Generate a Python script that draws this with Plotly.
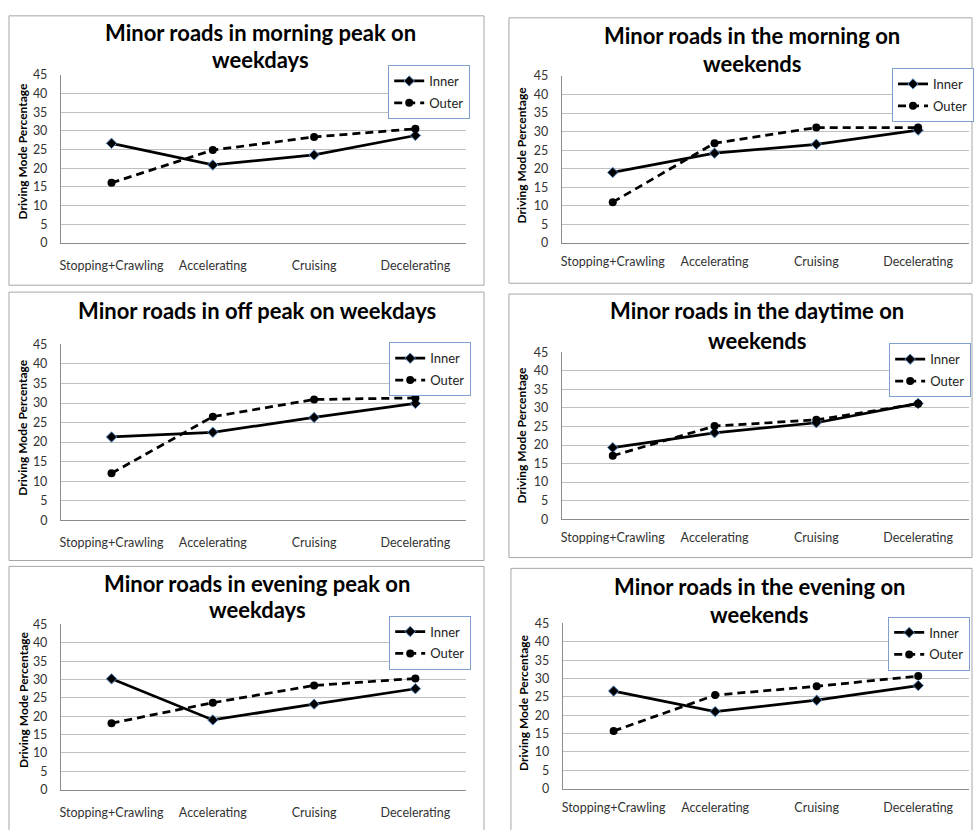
import plotly.graph_objects as go

W, H = 974, 830

categories = ["Stopping+Crawling", "Accelerating", "Cruising", "Decelerating"]
y_ticks = [0, 5, 10, 15, 20, 25, 30, 35, 40, 45]

titles = [
    ["Minor roads in morning peak on", "weekdays"],
    ["Minor roads in the morning on", "weekends"],
    ["Minor roads in off peak on weekdays"],
    ["Minor roads in the daytime on", "weekends"],
    ["Minor roads in evening peak on", "weekdays"],
    ["Minor roads in the evening on", "weekends"],
]

inner_morning_peak_weekdays = [26.7, 20.9, 23.6, 28.8]
outer_morning_peak_weekdays = [16.1, 24.9, 28.4, 30.6]

inner_morning_weekends = [19.0, 24.2, 26.6, 30.4]
outer_morning_weekends = [11.0, 26.9, 31.1, 31.1]

inner_off_peak_weekdays = [21.3, 22.5, 26.3, 29.9]
outer_off_peak_weekdays = [12.0, 26.5, 30.9, 31.3]

inner_daytime_weekends = [19.3, 23.3, 26.0, 31.2]
outer_daytime_weekends = [17.1, 25.1, 26.8, 31.1]

inner_evening_peak_weekdays = [30.2, 19.0, 23.3, 27.5]
outer_evening_peak_weekdays = [18.1, 23.7, 28.4, 30.3]

inner_evening_weekends = [26.6, 21.0, 24.1, 28.1]
outer_evening_weekends = [15.7, 25.5, 27.9, 30.7]

inner_series = [
    inner_morning_peak_weekdays, inner_morning_weekends,
    inner_off_peak_weekdays, inner_daytime_weekends,
    inner_evening_peak_weekdays, inner_evening_weekends,
]
outer_series = [
    outer_morning_peak_weekdays, outer_morning_weekends,
    outer_off_peak_weekdays, outer_daytime_weekends,
    outer_evening_peak_weekdays, outer_evening_weekends,
]

# Pixel geometry of each panel (left, top, right, bottom) in the 974x830 page
plot_boxes = [
    (60, 69, 466, 240), (562, 70, 970, 240),
    (60, 343, 466, 522), (562, 351, 970, 521),
    (60, 628, 466, 796), (563, 627, 970, 795),
]
frame_boxes = [
    (8, 9, 484, 283), (509, 11, 973, 281),
    (8, 290, 484, 563), (509, 292, 973, 560),
    (8, 569, 484, 840), (511, 571, 973, 840),
]
# centre x and the y of each title line
title_pos = [
    (260, [26, 53]), (753, [29, 57]), (257, [309]),
    (758, [309, 339]), (257, [586, 613]), (760, [589, 618]),
]
ytitle_pos = [(22, 146), (522, 150), (22, 427), (522, 435), (22, 704), (523, 707)]
legend_pos = [(388, 59), (893, 62), (389, 341), (890, 342), (389, 619), (889, 620)]
cat_standoff = [11, 7, 11, 7, 11, 7]


def px_x(x):
    return x / W


def px_y(y):
    return 1 - y / H


FONT = "Lato"
TICK_COLOR = "#333333"
GRID_COLOR = "#BFBFBF"
AXIS_COLOR = "#8C8C8C"
LEGEND_BORDER = "#7F9FCF"

fig = go.Figure()
layout = dict(
    width=W, height=H,
    margin=dict(l=0, r=0, t=0, b=0),
    paper_bgcolor="white", plot_bgcolor="white",
    annotations=[], shapes=[],
)

for i in range(6):
    n = i + 1
    xa = "x" if n == 1 else f"x{n}"
    ya = "y" if n == 1 else f"y{n}"
    lg = "legend" if n == 1 else f"legend{n}"

    fig.add_trace(go.Scatter(
        x=categories, y=inner_series[i], name="Inner", mode="lines+markers",
        xaxis=xa, yaxis=ya, legend=lg, legendgroup=f"inner{n}",
        line=dict(color="black", width=2.75),
        marker=dict(symbol="diamond", size=8, color="black",
                    line=dict(color="#5B8BC9", width=1)),
    ))
    fig.add_trace(go.Scatter(
        x=categories, y=outer_series[i], name="Outer", mode="lines+markers",
        xaxis=xa, yaxis=ya, legend=lg, legendgroup=f"outer{n}",
        line=dict(color="black", width=2.75, dash="8px,5px"),
        marker=dict(symbol="circle", size=8, color="black"),
    ))

    l, t, r, b = plot_boxes[i]
    xkey = "xaxis" if n == 1 else f"xaxis{n}"
    ykey = "yaxis" if n == 1 else f"yaxis{n}"
    layout[xkey] = dict(
        domain=[px_x(l), px_x(r)], anchor=ya, type="category",
        range=[-0.5, 3.5], showgrid=False, zeroline=False,
        showline=True, linecolor=AXIS_COLOR, linewidth=1,
        ticks="", ticklabelstandoff=cat_standoff[i],
        tickfont=dict(family=FONT, size=12.5, color=TICK_COLOR),
        fixedrange=True,
    )
    layout[ykey] = dict(
        domain=[px_y(b), px_y(t)], anchor=xa,
        range=[0, 45.05], tickvals=y_ticks, ticktext=[str(v) for v in y_ticks],
        showgrid=True, gridcolor=GRID_COLOR, gridwidth=1, zeroline=False,
        showline=True, linecolor=AXIS_COLOR, linewidth=1,
        ticks="", ticklabelstandoff=10,
        tickfont=dict(family=FONT, size=12.5, color=TICK_COLOR),
        fixedrange=True,
    )

    lx, ly = legend_pos[i]
    layout[lg] = dict(
        x=px_x(lx), y=px_y(ly), xanchor="left", yanchor="top",
        bgcolor="white", bordercolor=LEGEND_BORDER, borderwidth=1,
        font=dict(family=FONT, size=13, color="#222222"),
        tracegroupgap=2, itemwidth=30,
    )

    fl, ft, fr, fb = frame_boxes[i]
    layout["shapes"].append(dict(
        type="rect", xref="paper", yref="paper",
        x0=px_x(fl), x1=px_x(fr), y0=px_y(fb), y1=px_y(ft),
        line=dict(color="#A6A6A6", width=1), fillcolor="rgba(0,0,0,0)",
        layer="below",
    ))

    tx, tys = title_pos[i]
    for line_text, ty in zip(titles[i], tys):
        layout["annotations"].append(dict(
            text=line_text, xref="paper", yref="paper",
            x=px_x(tx), y=px_y(ty), xanchor="center", yanchor="middle",
            showarrow=False, align="center",
            font=dict(family=FONT, size=22, color="black", weight="bold"),
        ))

    ax_, ay_ = ytitle_pos[i]
    layout["annotations"].append(dict(
        text="Driving Mode Percentage", xref="paper", yref="paper",
        x=px_x(ax_), y=px_y(ay_), xanchor="center", yanchor="middle",
        showarrow=False, textangle=-90,
        font=dict(family=FONT, size=12, color="black", weight="bold"),
    ))

fig.update_layout(**layout)
fig.write_html("out.html")
